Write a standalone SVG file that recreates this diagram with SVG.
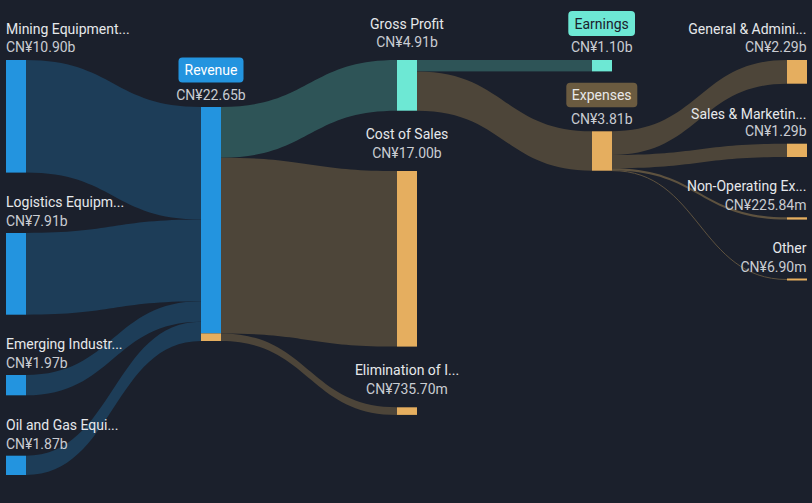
<svg xmlns="http://www.w3.org/2000/svg" width="812" height="503" viewBox="0 0 812 503">
<style>
text{font-family:Roboto,"Liberation Sans",Arial,sans-serif;font-size:14px}
.nm{fill:#e6e8eb}
.vl{fill:#c9ccd2}
.s{text-anchor:start}
.m{text-anchor:middle}
.e{text-anchor:end}
.pill{font-size:14px;text-anchor:middle}
.lb{fill:#1d3d58}
.lt{fill:#2e5457}
.lo{fill:#4d4539}
.nb{fill:#2394df}
.nt{fill:#6de8d4}
.no{fill:#e5ae5f}
</style>
<rect x="0" y="0" width="812" height="503" fill="#1b202c"/>
<g id="connectors">
<path class="lb" d="M26,60 C113.5,60 113.5,107 201,107 L201,219.6 C113.5,219.6 113.5,172.6 26,172.6 Z"/>
<path class="lb" d="M26,233 C113.5,233 113.5,219.6 201,219.6 L201,301.3 C113.5,301.3 113.5,314.7 26,314.7 Z"/>
<path class="lb" d="M26,375 C113.5,375 113.5,301.3 201,301.3 L201,321.7 C113.5,321.7 113.5,395.3 26,395.3 Z"/>
<path class="lb" d="M26,455.7 C113.5,455.7 113.5,321.7 201,321.7 L201,341 C113.5,341 113.5,475 26,475 Z"/>
<path class="lt" d="M221,107 C309,107 309,60 397,60 L397,110.7 C309,110.7 309,157.7 221,157.7 Z"/>
<path class="lo" d="M221,157.7 C309,157.7 309,171 397,171 L397,346.6 C309,346.6 309,333.4 221,333.4 Z"/>
<path class="lo" d="M221,333.4 C309,333.4 309,407.3 397,407.3 L397,414.9 C309,414.9 309,341 221,341 Z"/>
<rect class="lt" x="417" y="60" width="175" height="11.4"/>
<path class="lo" d="M417,71.4 C504.5,71.4 504.5,131.3 592,131.3 L592,170.7 C504.5,170.7 504.5,110.7 417,110.7 Z"/>
<path class="lo" d="M612,131.3 C699.5,131.3 699.5,60 787,60 L787,83.7 C699.5,83.7 699.5,155 612,155 Z"/>
<path class="lo" d="M612,155 C699.5,155 699.5,143.7 787,143.7 L787,157 C699.5,157 699.5,168.3 612,168.3 Z"/>
<path fill="#5e523f" d="M612,168.3 C699.5,168.3 699.5,217.3 787,217.3 L787,219.6 C699.5,219.6 699.5,170.6 612,170.6 Z"/>
<path fill="none" stroke="#5e523f" stroke-width="1" d="M612,170.6 C699.5,170.6 699.5,279.5 787,279.5"/>
</g>
<g id="mining">
<rect class="nb" x="6" y="60" width="20" height="112.6"/>
<text class="nm s" x="6" y="34">Mining Equipment...</text>
<text class="vl s" x="6" y="52">CN¥10.90b</text>
</g>
<g id="logistics">
<rect class="nb" x="6" y="233" width="20" height="81.7"/>
<text class="nm s" x="6" y="207">Logistics Equipm...</text>
<text class="vl s" x="6" y="225.5">CN¥7.91b</text>
</g>
<g id="emerging">
<rect class="nb" x="6" y="375" width="20" height="20.3"/>
<text class="nm s" x="6" y="349">Emerging Industr...</text>
<text class="vl s" x="6" y="367.5">CN¥1.97b</text>
</g>
<g id="oilgas">
<rect class="nb" x="6" y="455.7" width="20" height="19.3"/>
<text class="nm s" x="6" y="430">Oil and Gas Equi...</text>
<text class="vl s" x="6" y="448.5">CN¥1.87b</text>
</g>
<g id="revenue">
<rect class="nb" x="201" y="107" width="20" height="226.4"/>
<rect class="no" x="201" y="333.4" width="20" height="7.6"/>
<rect class="nb" x="178.5" y="57.5" width="65" height="25" rx="4"/>
<text class="pill" x="211" y="75" fill="#ffffff">Revenue</text>
<text class="vl m" x="211" y="99.5">CN¥22.65b</text>
</g>
<g id="grossprofit">
<rect class="nt" x="397" y="60" width="20" height="50.7"/>
<text class="nm m" x="407" y="28.5">Gross Profit</text>
<text class="vl m" x="407" y="46.7">CN¥4.91b</text>
</g>
<g id="costofsales">
<rect class="no" x="397" y="171" width="20" height="175.6"/>
<text class="nm m" x="407" y="139">Cost of Sales</text>
<text class="vl m" x="407" y="157.7">CN¥17.00b</text>
</g>
<g id="elimination">
<rect class="no" x="397" y="407.3" width="20" height="7.6"/>
<text class="nm m" x="407" y="375">Elimination of I...</text>
<text class="vl m" x="407" y="394">CN¥735.70m</text>
</g>
<g id="earnings">
<rect class="nt" x="592" y="60" width="20" height="11.4"/>
<rect class="nt" x="568.3" y="11" width="66.7" height="25" rx="4"/>
<text class="pill" x="601.7" y="28.5" fill="#1b202c">Earnings</text>
<text class="vl m" x="601.7" y="51.7">CN¥1.10b</text>
</g>
<g id="expenses">
<rect class="no" x="592" y="131.3" width="20" height="39.4"/>
<rect x="566.3" y="82.7" width="71" height="24.6" rx="4" fill="#6b5b40"/>
<text class="pill" x="601.7" y="100" fill="#e8e8e8">Expenses</text>
<text class="vl m" x="601.7" y="123.5">CN¥3.81b</text>
</g>
<g id="ga">
<rect class="no" x="787" y="60" width="20" height="23.7"/>
<text class="nm e" x="806.5" y="34">General &amp; Admini...</text>
<text class="vl e" x="806.5" y="51.7">CN¥2.29b</text>
</g>
<g id="sm">
<rect class="no" x="787" y="143.7" width="20" height="13.3"/>
<text class="nm e" x="806.5" y="118.5">Sales &amp; Marketin...</text>
<text class="vl e" x="806.5" y="136">CN¥1.29b</text>
</g>
<g id="nonop">
<rect class="no" x="787" y="217.3" width="20" height="2.3"/>
<text class="nm e" x="806.5" y="190.7">Non-Operating Ex...</text>
<text class="vl e" x="806.5" y="210">CN¥225.84m</text>
</g>
<g id="other">
<rect class="no" x="787" y="278.5" width="20" height="2"/>
<text class="nm e" x="806.5" y="252.7">Other</text>
<text class="vl e" x="806.5" y="271.7">CN¥6.90m</text>
</g>
</svg>
